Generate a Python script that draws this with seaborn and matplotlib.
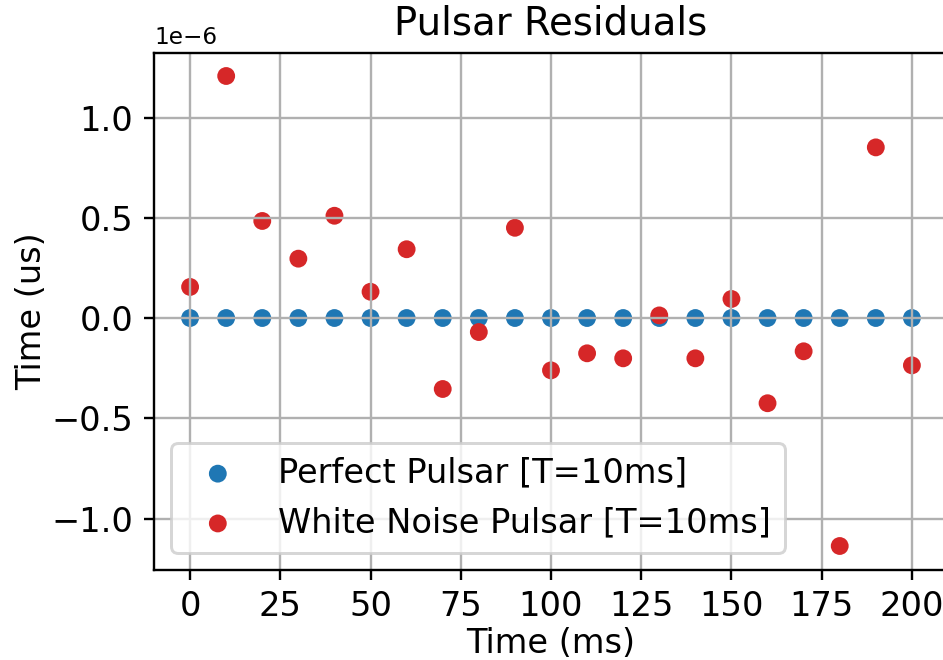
import numpy as np
import pandas as pd
import matplotlib
matplotlib.use("Agg")
import matplotlib.pyplot as plt
from matplotlib.ticker import MultipleLocator
import seaborn as sns

# Sample times (ms) and timing residuals (s)
time_ms = [0, 10, 20, 30, 40, 50, 60, 70, 80, 90, 100,
           110, 120, 130, 140, 150, 160, 170, 180, 190, 200]
perfect_resid = [0.0] * 21
white_noise_resid = [0.155e-6, 1.207e-6, 0.484e-6, 0.296e-6, 0.510e-6,
                     0.131e-6, 0.343e-6, -0.354e-6, -0.070e-6, 0.450e-6,
                     -0.261e-6, -0.176e-6, -0.201e-6, 0.013e-6, -0.201e-6,
                     0.095e-6, -0.425e-6, -0.166e-6, -1.137e-6, 0.851e-6,
                     -0.236e-6]
labels = ["Perfect Pulsar [T=10ms]", "White Noise Pulsar [T=10ms]"]
colors = ["#1f77b4", "#d62728"]

perfect = pd.DataFrame({"t": time_ms, "r": perfect_resid})
noisy = pd.DataFrame({"t": time_ms, "r": white_noise_resid})

plt.rcParams["font.size"] = 11.3
plt.rcParams["axes.titlesize"] = 13

dpi = 214
fig = plt.figure(figsize=(943 / dpi, 660 / dpi), dpi=dpi)
ax = fig.add_axes([154 / 943, 1 - 569.5 / 660, (948 - 154) / 943, (569.5 - 52.5) / 660])

sns.scatterplot(data=perfect, x="t", y="r", ax=ax, color=colors[0],
                s=36, linewidth=0, edgecolor="none", label=labels[0])
sns.scatterplot(data=noisy, x="t", y="r", ax=ax, color=colors[1],
                s=36, linewidth=0, edgecolor="none", label=labels[1])

ax.xaxis.set_major_locator(MultipleLocator(25))
ax.grid(True)
ax.set_title("Pulsar Residuals")
ax.set_xlabel("Time (ms)", labelpad=1.2)
ax.set_ylabel("Time (us)", labelpad=1)
ax.yaxis.get_offset_text().set_fontsize(7.8)
ax.legend(loc="lower left")

fig.savefig("out.png", dpi=dpi)
